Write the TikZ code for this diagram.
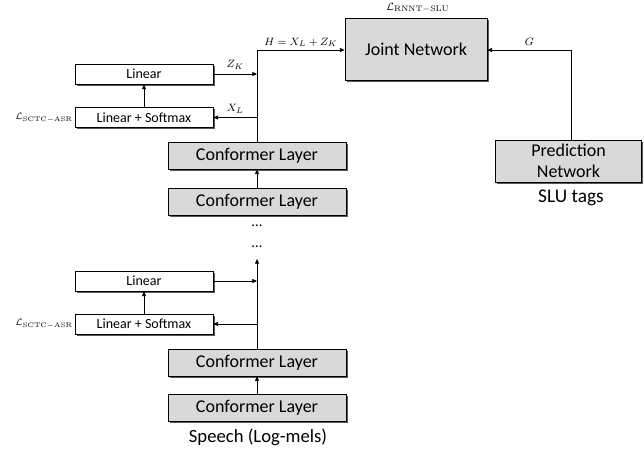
\documentclass[tikz,border=0pt]{standalone}
\usepackage{amsmath,amssymb}
\usepackage[no-math]{fontspec}
\setmainfont{Carlito}
\usepackage{tikz}
\usetikzlibrary{arrows.meta,shadows}

\definecolor{boxgray}{HTML}{D9D9D9}

\begin{document}
\begin{tikzpicture}
	[
	x=0.75pt, y=-0.75pt,
	align=center,
	box/.style={draw, line width=0.6pt, inner sep=0pt,
		drop shadow={shadow xshift=1.2pt, shadow yshift=-1.2pt, fill=black!65, opacity=1}},
	conf/.style={box, fill=boxgray, minimum width=133.5pt, minimum height=20.25pt, font=\fontsize{13.5}{15}\selectfont},
	lin/.style={box, fill=white, minimum width=103.5pt, minimum height=15pt, font=\fontsize{10.5}{12}\selectfont},
	lbl/.style={inner sep=0pt, font=\fontsize{8}{10}\selectfont},
	arr/.style={-{Triangle[length=3.5pt,width=3pt]}, line width=0.6pt},
	]
		\useasboundingbox (0,0) rectangle (644,459);
		
		% joint and prediction network
		\node[box, fill=boxgray, minimum width=106.5pt, minimum height=46.5pt, font=\fontsize{13.5}{15}\selectfont] (jn) at 		( 416,  49 ) {Joint Network};
		\node[box, fill=boxgray, minimum width=110pt, minimum height=31.5pt, font=\fontsize{13.5}{16}\selectfont] (pn) at 		( 568.5, 161 ) {Prediction\\Network};
		\node[lbl, font=\fontsize{14.5}{16}\selectfont] (slu) at 		( 571, 198 ) {SLU tags};
		\node[lbl] (lrnnt) at 		( 418,   8 ) {$\mathcal{L}_{\mathrm{RNNT-SLU}}$};
		
		% upper encoder part
		\node[conf] (cl1) at 		( 257, 155.5 ) {Conformer Layer};
		\node[conf] (cl2) at 		( 257, 201.5 ) {Conformer Layer};
		\node[lin] (lin1) at 		( 144,  74 ) {Linear};
		\node[lin] (lsm1) at 		( 144, 117.5 ) {Linear + Softmax};
		\node[lbl, font=\fontsize{7.5}{9}\selectfont] (ls1) at 		(  44, 118 ) {$\mathcal{L}_{\mathrm{SCTC-ASR}}$};
		
		% dots
		\node[lbl, font=\fontsize{11}{12}\selectfont] (d1) at 		( 257, 226 ) {...};
		\node[lbl, font=\fontsize{11}{12}\selectfont] (d2) at 		( 257, 247 ) {...};
		
		% lower encoder part
		\node[conf] (cl3) at 		( 257, 362.5 ) {Conformer Layer};
		\node[conf] (cl4) at 		( 257, 407.5 ) {Conformer Layer};
		\node[lin] (lin2) at 		( 144, 281 ) {Linear};
		\node[lin] (lsm2) at 		( 144, 324 ) {Linear + Softmax};
		\node[lbl, font=\fontsize{7.5}{9}\selectfont] (ls2) at 		(  44, 324 ) {$\mathcal{L}_{\mathrm{SCTC-ASR}}$};
		\node[lbl, font=\fontsize{14}{16}\selectfont] (sp) at 		( 258, 437 ) {Speech (Log-mels)};
		
		% junctions
		\coordinate (top) at 		( 257,  50 );
		\coordinate (zk1) at 		( 257,  74 );
		\coordinate (xl1) at 		( 257, 117.5 );
		\coordinate (zk2) at 		( 257, 281 );
		\coordinate (xl2) at 		( 257, 324 );
		\coordinate (up) at 		( 257, 259 );
		\coordinate (gc) at 		( 571,  50 );
		
		\draw[line width=0.6pt] (cl1.north) -- (top);
		\draw[arr] (top) -- (top -| jn.west) node[lbl, midway, above=2pt] (h) {$H = X_L + Z_K$};
		\draw[arr] (pn.north -| gc) -- (gc) -- (gc -| jn.east) node[lbl, midway, above=3pt] (g) {$G$};
		\foreach \from/\to in {cl2/cl1,cl4/cl3,lsm1/lin1,lsm2/lin2} \draw[arr] (\from) -- (\to);
		\draw[arr] (lin1.east) -- (zk1) node[lbl, midway, above=3pt] (zk) {$Z_K$};
		\draw[arr] (xl1) -- (lsm1.east) node[lbl, midway, above=3pt] (xl) {$X_L$};
		\draw[arr] (lin2.east) -- (zk2);
		\draw[arr] (xl2) -- (lsm2.east);
		\draw[arr] (cl3.north) -- (up);
		
	\end{tikzpicture}
\end{document}
